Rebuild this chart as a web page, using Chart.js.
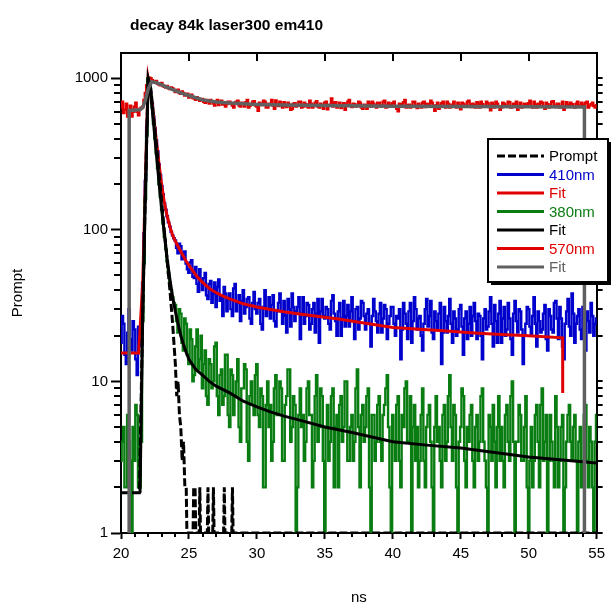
<!DOCTYPE html>
<html>
<head>
<meta charset="utf-8">
<script src="https://cdn.jsdelivr.net/npm/chart.js@4.4.1/dist/chart.umd.min.js"></script>
<style>
  html, body { margin: 0; padding: 0; background: #fff; }
  canvas { display: block; }
</style>
</head>
<body>
<canvas id="decay" width="611" height="616"></canvas>
<script>
// axis ranges / ticks
const X_MIN = 20, X_MAX = 55, X_STEP = 5;
const Y_MIN = 1, Y_MAX = 1468;
const Y_DECADES = [1, 10, 100, 1000];

const SERIES_LABELS = ['Prompt', '410nm', 'Fit', '380nm', 'Fit', '570nm', 'Fit'];

// measured channels (ns), one row per ns
const T_DATA = [
  20.0, 20.1, 20.2, 20.3, 20.4, 20.5, 20.6, 20.7, 20.8, 20.9,
  21.0, 21.1, 21.2, 21.3, 21.4, 21.5, 21.6, 21.7, 21.8, 21.9,
  22.0, 22.1, 22.2, 22.3, 22.4, 22.5, 22.6, 22.7, 22.8, 22.9,
  23.0, 23.1, 23.2, 23.3, 23.4, 23.5, 23.6, 23.7, 23.8, 23.9,
  24.0, 24.1, 24.2, 24.3, 24.4, 24.5, 24.6, 24.7, 24.8, 24.9,
  25.0, 25.1, 25.2, 25.3, 25.4, 25.5, 25.6, 25.7, 25.8, 25.9,
  26.0, 26.1, 26.2, 26.3, 26.4, 26.5, 26.6, 26.7, 26.8, 26.9,
  27.0, 27.1, 27.2, 27.3, 27.4, 27.5, 27.6, 27.7, 27.8, 27.9,
  28.0, 28.1, 28.2, 28.3, 28.4, 28.5, 28.6, 28.7, 28.8, 28.9,
  29.0, 29.1, 29.2, 29.3, 29.4, 29.5, 29.6, 29.7, 29.8, 29.9,
  30.0, 30.1, 30.2, 30.3, 30.4, 30.5, 30.6, 30.7, 30.8, 30.9,
  31.0, 31.1, 31.2, 31.3, 31.4, 31.5, 31.6, 31.7, 31.8, 31.9,
  32.0, 32.1, 32.2, 32.3, 32.4, 32.5, 32.6, 32.7, 32.8, 32.9,
  33.0, 33.1, 33.2, 33.3, 33.4, 33.5, 33.6, 33.7, 33.8, 33.9,
  34.0, 34.1, 34.2, 34.3, 34.4, 34.5, 34.6, 34.7, 34.8, 34.9,
  35.0, 35.1, 35.2, 35.3, 35.4, 35.5, 35.6, 35.7, 35.8, 35.9,
  36.0, 36.1, 36.2, 36.3, 36.4, 36.5, 36.6, 36.7, 36.8, 36.9,
  37.0, 37.1, 37.2, 37.3, 37.4, 37.5, 37.6, 37.7, 37.8, 37.9,
  38.0, 38.1, 38.2, 38.3, 38.4, 38.5, 38.6, 38.7, 38.8, 38.9,
  39.0, 39.1, 39.2, 39.3, 39.4, 39.5, 39.6, 39.7, 39.8, 39.9,
  40.0, 40.1, 40.2, 40.3, 40.4, 40.5, 40.6, 40.7, 40.8, 40.9,
  41.0, 41.1, 41.2, 41.3, 41.4, 41.5, 41.6, 41.7, 41.8, 41.9,
  42.0, 42.1, 42.2, 42.3, 42.4, 42.5, 42.6, 42.7, 42.8, 42.9,
  43.0, 43.1, 43.2, 43.3, 43.4, 43.5, 43.6, 43.7, 43.8, 43.9,
  44.0, 44.1, 44.2, 44.3, 44.4, 44.5, 44.6, 44.7, 44.8, 44.9,
  45.0, 45.1, 45.2, 45.3, 45.4, 45.5, 45.6, 45.7, 45.8, 45.9,
  46.0, 46.1, 46.2, 46.3, 46.4, 46.5, 46.6, 46.7, 46.8, 46.9,
  47.0, 47.1, 47.2, 47.3, 47.4, 47.5, 47.6, 47.7, 47.8, 47.9,
  48.0, 48.1, 48.2, 48.3, 48.4, 48.5, 48.6, 48.7, 48.8, 48.9,
  49.0, 49.1, 49.2, 49.3, 49.4, 49.5, 49.6, 49.7, 49.8, 49.9,
  50.0, 50.1, 50.2, 50.3, 50.4, 50.5, 50.6, 50.7, 50.8, 50.9,
  51.0, 51.1, 51.2, 51.3, 51.4, 51.5, 51.6, 51.7, 51.8, 51.9,
  52.0, 52.1, 52.2, 52.3, 52.4, 52.5, 52.6, 52.7, 52.8, 52.9,
  53.0, 53.1, 53.2, 53.3, 53.4, 53.5, 53.6, 53.7, 53.8, 53.9,
  54.0, 54.1, 54.2, 54.3, 54.4, 54.5, 54.6, 54.7, 54.8, 54.9,
  55.0
];

const COUNTS_410 = [
  18, 27, 24, 15, 13, 21, 30, 19, 16, 25,
  22, 14, 11, 23, 20, 17, 45, 95, 210, 480,
  1000, 910, 800, 680, 560, 470, 390, 330, 270, 230,
  195, 172, 150, 136, 123, 112, 105, 97, 92, 88,
  85, 76, 70, 81, 78, 64, 66, 72, 60, 55,
  52, 61, 63, 49, 48, 57, 44, 39, 55, 47,
  40, 48, 52, 37, 35, 44, 46, 33, 38, 45,
  31, 42, 47, 34, 36, 27, 42, 38, 29, 35,
  38, 30, 27, 41, 44, 29, 33, 37, 25, 34,
  40, 28, 31, 35, 36, 26, 24, 33, 39, 30,
  28, 33, 35, 24, 22, 31, 40, 27, 30, 36,
  26, 32, 37, 25, 23, 29, 33, 38, 29, 24,
  34, 27, 21, 35, 30, 23, 38, 31, 25, 29,
  31, 36, 19, 28, 36, 24, 27, 33, 32, 22,
  24, 30, 33, 21, 28, 35, 18, 29, 35, 27,
  26, 31, 30, 24, 22, 34, 37, 28, 25, 20,
  29, 33, 20, 26, 34, 23, 27, 32, 23, 29,
  36, 25, 19, 30, 31, 22, 26, 34, 33, 27,
  22, 28, 30, 24, 17, 27, 35, 29, 25, 21,
  28, 33, 21, 26, 32, 30, 19, 24, 27, 31,
  31, 24, 20, 27, 26, 30, 14, 22, 33, 28,
  24, 19, 29, 33, 18, 25, 36, 30, 22, 26,
  27, 20, 16, 24, 30, 35, 23, 27, 34, 21,
  19, 29, 25, 22, 28, 33, 13, 21, 31, 25,
  21, 27, 35, 24, 18, 29, 26, 20, 22, 30,
  32, 23, 15, 26, 29, 19, 24, 31, 20, 27,
  33, 25, 19, 28, 27, 20, 14, 26, 30, 22,
  23, 29, 36, 24, 17, 32, 25, 18, 28, 34,
  18, 26, 31, 20, 22, 33, 26, 19, 15, 28,
  34, 25, 21, 30, 29, 22, 13, 20, 24, 31,
  30, 23, 20, 27, 36, 24, 17, 29, 25, 21,
  22, 28, 32, 19, 16, 30, 27, 22, 21, 33,
  34, 26, 19, 31, 26, 17, 14, 24, 29, 35,
  23, 20, 38, 28, 18, 24, 27, 30, 22, 19,
  31, 25, 16, 29, 25, 21, 33, 27, 20, 24,
  26
];

const COUNTS_380 = [
  3, 4, 5, 2, 2, 6, 4, 3, 1, 5,
  3, 7, 6, 2, 2, 4, 25, 60, 160, 420,
  1000, 900, 780, 640, 500, 400, 320, 255, 200, 165,
  135, 110, 90, 75, 62, 52, 45, 40, 36, 33,
  32, 25, 21, 30, 28, 18, 16, 26, 24, 15,
  13, 22, 19, 10, 11, 17, 22, 12, 14, 20,
  9, 13, 16, 8, 7, 14, 13, 9, 10, 17,
  18, 8, 6, 11, 12, 7, 8, 15, 15, 6,
  5, 12, 11, 6, 8, 10, 14, 5, 4, 9,
  9, 13, 12, 4, 3, 8, 10, 7, 6, 11,
  13, 6, 5, 9, 8, 2, 2, 7, 10, 5,
  7, 3, 4, 9, 11, 6, 6, 10, 9, 3,
  3, 7, 8, 12, 12, 4, 5, 8, 7, 1,
  2, 6, 9, 5, 6, 3, 4, 9, 10, 6,
  6, 2, 3, 8, 11, 4, 5, 9, 8, 3,
  1, 5, 7, 3, 4, 8, 9, 2, 5, 6,
  2, 7, 8, 4, 5, 10, 10, 3, 3, 5,
  6, 3, 4, 9, 12, 5, 2, 6, 7, 4,
  5, 8, 9, 2, 1, 6, 6, 3, 4, 7,
  8, 4, 3, 6, 7, 9, 11, 5, 2, 1,
  6, 4, 3, 7, 8, 3, 2, 6, 5, 9,
  10, 4, 4, 8, 1, 5, 7, 3, 5, 2,
  3, 6, 9, 3, 2, 5, 6, 7, 4, 2,
  1, 5, 8, 4, 5, 3, 2, 6, 7, 3,
  4, 8, 11, 5, 3, 7, 6, 2, 1, 4,
  5, 9, 8, 3, 2, 5, 4, 6, 7, 3,
  2, 5, 6, 3, 4, 8, 9, 4, 3, 2,
  1, 6, 5, 3, 7, 4, 2, 5, 8, 3,
  5, 3, 2, 6, 7, 4, 3, 8, 10, 4,
  1, 4, 4, 7, 6, 3, 3, 5, 8, 2,
  1, 3, 5, 2, 3, 6, 7, 4, 2, 7,
  9, 3, 4, 6, 1, 3, 6, 4, 3, 2,
  8, 5, 2, 3, 5, 6, 1, 2, 4, 6,
  7, 4, 3, 5, 6, 3, 1, 4, 5, 2,
  3, 6, 7, 3, 2, 5, 4, 2, 1, 4,
  6
];

const COUNTS_570 = [
  640, 700, 590, 620, 680, 560, 610, 660, 560, 600,
  650, 690, 600, 570, 630, 640, 650, 720, 800, 900,
  990, 1010, 1000, 970, 950, 940, 960, 920, 910, 900,
  930, 890, 880, 870, 890, 860, 850, 870, 860, 840,
  810, 830, 840, 800, 790, 820, 800, 770, 770, 790,
  745, 760, 780, 740, 735, 720, 750, 740, 710, 730,
  730, 700, 690, 720, 705, 680, 720, 700, 680, 660,
  700, 720, 665, 690, 710, 670, 690, 650, 675, 700,
  700, 680, 660, 640, 690, 700, 710, 660, 650, 690,
  680, 650, 695, 720, 640, 660, 675, 700, 705, 660,
  650, 610, 690, 670, 665, 710, 700, 640, 640, 680,
  680, 720, 660, 630, 715, 670, 655, 700, 675, 640,
  695, 660, 645, 690, 670, 620, 630, 680, 685, 650,
  660, 700, 700, 640, 650, 690, 675, 650, 640, 710,
  680, 640, 655, 690, 705, 650, 640, 680, 665, 630,
  690, 700, 625, 660, 670, 735, 650, 690, 695, 640,
  660, 690, 635, 660, 685, 620, 670, 700, 720, 660,
  645, 680, 675, 650, 655, 700, 690, 640, 630, 670,
  665, 630, 700, 680, 650, 700, 680, 660, 640, 690,
  690, 650, 660, 700, 710, 640, 645, 690, 670, 660,
  685, 700, 650, 630, 605, 680, 675, 650, 695, 720,
  640, 665, 670, 640, 660, 700, 700, 660, 635, 680,
  660, 640, 690, 700, 645, 680, 675, 650, 710, 690,
  650, 610, 665, 690, 630, 660, 685, 700, 655, 640,
  700, 680, 640, 660, 670, 700, 655, 640, 690, 660,
  625, 690, 680, 660, 660, 700, 710, 670, 645, 680,
  665, 640, 695, 680, 640, 700, 675, 650, 650, 700,
  685, 660, 615, 690, 670, 640, 700, 680, 655, 620,
  640, 690, 680, 650, 660, 700, 695, 640, 645, 680,
  670, 700, 620, 660, 690, 640, 655, 680, 675, 650,
  685, 710, 650, 640, 700, 670, 640, 680, 665, 700,
  690, 650, 630, 690, 675, 640, 660, 700, 705, 660,
  645, 680, 680, 640, 655, 700, 620, 650, 695, 670,
  660, 690, 675, 650, 640, 680, 700, 660, 650, 690,
  670, 640, 690, 700, 640, 660, 675, 690, 655, 640,
  665
];

// instrument response
const PROMPT_T = [20, 21.35, 21.6, 21.8, 22.0, 22.2, 22.4, 22.6, 22.8, 23.0, 23.2, 23.4, 23.6, 23.8,
  24.0, 24.1, 24.2, 24.3, 24.4, 24.5, 24.6, 24.7, 24.8, 24.85, 25.3, 25.35, 25.45, 25.5,
  25.75, 25.8, 25.85, 26.35, 26.4, 26.45, 26.75, 26.8, 26.85, 27.55, 27.6, 27.65,
  28.15, 28.2, 28.25, 55];
const PROMPT_Y = [1.84, 1.84, 28, 190, 1000, 850, 550, 370, 240, 150, 96, 62, 40, 24,
  13, 8, 10, 6, 5, 3, 4, 2, 2, 1, 1, 2, 2, 1,
  1, 2, 1, 1, 2, 1, 1, 2, 1, 1, 2, 1,
  1, 2, 1, 1];

// fits
const FIT410_T = [20, 21.3, 21.6, 21.8, 22.0, 22.2, 22.4, 22.6, 22.8, 23.0, 23.2, 23.4, 23.6, 23.8,
  24.0, 24.4, 24.8, 25.2, 25.6, 26.0, 26.5, 27.0, 27.5, 28, 29, 30, 31, 32, 33, 34,
  36, 38, 40, 42, 44, 46, 48, 50, 52.5, 52.5];
const FIT410_Y = [15.4, 15.4, 45, 220, 1000, 800, 560, 390, 270, 195, 150, 123, 105, 92,
  84, 72, 62, 55, 49, 45, 41, 38.5, 36.5, 35, 32.5, 31, 29.8, 28.8, 28, 27.2,
  25.8, 24.2, 22.7, 22.1, 21.5, 20.9, 20.4, 20.0, 19.4, 8.4];

const FIT380_T = [21.4, 21.6, 21.8, 22.0, 22.2, 22.4, 22.6, 22.8, 23.0, 23.2, 23.4, 23.6, 23.8,
  24.0, 24.2, 24.4, 24.6, 24.8, 25.0, 25.5, 26.0, 26.5, 27, 28, 29, 30, 31, 32, 33,
  35, 37, 40, 42.5, 45, 47.5, 50, 52.5, 55];
const FIT380_Y = [1.84, 28, 180, 1000, 780, 500, 320, 205, 135, 92, 64, 47, 36,
  29, 24, 20, 17.5, 15.5, 14, 12, 11, 10, 9.3, 8.4, 7.4, 6.8, 6.3, 5.9, 5.6,
  5.0, 4.6, 4.0, 3.8, 3.64, 3.4, 3.17, 3.03, 2.9];

const FIT570_T = [20.6, 20.6, 21.4, 21.6, 21.8, 22.0, 22.25, 22.6, 23.0, 23.5, 24.0, 24.5, 25.0,
  26, 27, 28, 29, 30, 32, 35, 40, 45, 50, 54.1, 54.1];
const FIT570_Y = [1, 613, 620, 640, 720, 850, 950, 935, 905, 865, 830, 795, 770,
  720, 698, 686, 678, 672, 666, 660, 655, 652, 649, 647, 1];

const BLUE = '#0000cc', RED = '#e00000', GREEN = '#0a7d12', BLACK = '#000000', GRAY = '#606060';
const FONT = "'Liberation Sans', Arial, sans-serif";

function pts(xs, ys) {
  return xs.map((x, i) => ({ x: x, y: ys[i] }));
}

const datasets = [
  { label: SERIES_LABELS[0], data: pts(PROMPT_T, PROMPT_Y), borderColor: BLACK, borderWidth: 3, borderDash: [8, 3], order: 1 },
  { label: SERIES_LABELS[1], data: pts(T_DATA, COUNTS_410), borderColor: BLUE, borderWidth: 2.4, stepped: 'middle', order: 5 },
  { label: SERIES_LABELS[2], data: pts(FIT410_T, FIT410_Y), borderColor: RED, borderWidth: 3, order: 4 },
  { label: SERIES_LABELS[3], data: pts(T_DATA, COUNTS_380), borderColor: GREEN, borderWidth: 2.4, stepped: 'middle', order: 3 },
  { label: SERIES_LABELS[4], data: pts(FIT380_T, FIT380_Y), borderColor: BLACK, borderWidth: 3, order: 2 },
  { label: SERIES_LABELS[5], data: pts(T_DATA, COUNTS_570), borderColor: RED, borderWidth: 2.4, stepped: 'middle', order: 6 },
  { label: SERIES_LABELS[6], data: pts(FIT570_T, FIT570_Y), borderColor: GRAY, borderWidth: 3.5, order: 0 }
];
datasets.forEach(d => {
  d.xAxisID = 'x';
  d.yAxisID = 'y';
  d.pointRadius = 0;
  d.fill = false;
  d.tension = 0;
});

// title, minor ticks, inward top ticks and the boxed legend
const extras = {
  id: 'extras',
  afterDraw(chart) {
    const { ctx, chartArea: a, scales } = chart;
    const xs = scales.x, ys = scales.y;
    ctx.save();

    ctx.fillStyle = '#000';
    ctx.font = 'bold 15.5px ' + FONT;
    ctx.textBaseline = 'alphabetic';
    ctx.textAlign = 'left';
    ctx.fillText('decay 84k laser300 em410', 130, 30);

    ctx.strokeStyle = '#000';
    ctx.lineWidth = 2;
    ctx.beginPath();
    for (let t = X_MIN; t <= X_MAX; t++) {
      const px = Math.round(xs.getPixelForValue(t));
      if (t % X_STEP) {
        ctx.moveTo(px, a.bottom); ctx.lineTo(px, a.bottom + 4);
      } else if (t > X_MIN && t < X_MAX) {
        ctx.moveTo(px, a.top); ctx.lineTo(px, a.top + 8);
      }
    }
    Y_DECADES.forEach(d => {
      for (let m = 1; m <= 9; m++) {
        const v = d * m;
        if (v > Y_MAX) break;
        const py = Math.round(ys.getPixelForValue(v));
        if (m > 1) { ctx.moveTo(a.left - 7, py); ctx.lineTo(a.left, py); }
        ctx.moveTo(a.right, py); ctx.lineTo(a.right + 6, py);
      }
    });
    ctx.stroke();

    // legend
    const bx = 488, by = 139, bw = 120, bh = 143;
    ctx.fillStyle = '#000';
    ctx.fillRect(bx + 3, by + 3, bw, bh);
    ctx.fillStyle = '#fff';
    ctx.fillRect(bx, by, bw, bh);
    ctx.lineWidth = 2;
    ctx.strokeRect(bx, by, bw, bh);
    ctx.font = '15px ' + FONT;
    ctx.textBaseline = 'middle';
    chart.data.datasets.forEach((ds, i) => {
      const yy = 156 + i * 18.5;
      ctx.beginPath();
      ctx.strokeStyle = ds.borderColor;
      ctx.lineWidth = 3;
      ctx.setLineDash(ds.borderDash || []);
      ctx.moveTo(497, yy);
      ctx.lineTo(544, yy);
      ctx.stroke();
      ctx.setLineDash([]);
      ctx.fillStyle = ds.borderColor;
      ctx.fillText(ds.label, 549, yy + 1);
    });
    ctx.restore();
  }
};

new Chart(document.getElementById('decay'), {
  type: 'line',
  data: { datasets: datasets },
  options: {
    responsive: false,
    animation: false,
    events: [],
    layout: { padding: 0 },
    plugins: { legend: { display: false }, title: { display: false }, tooltip: { enabled: false } },
    scales: {
      x: {
        type: 'linear', position: 'bottom', min: X_MIN, max: X_MAX,
        ticks: { stepSize: X_STEP, color: '#000', padding: 6, maxRotation: 0, font: { family: FONT, size: 15 } },
        grid: { drawOnChartArea: false, tickLength: 6, tickWidth: 2, tickColor: '#000' },
        border: { color: '#000', width: 2 },
        title: { display: true, text: 'ns', color: '#000', padding: { top: 0, bottom: 9 }, font: { family: FONT, size: 15 } },
        afterFit: s => { s.height = 83; }
      },
      xTop: {
        type: 'linear', position: 'top', min: X_MIN, max: X_MAX,
        ticks: { display: false },
        grid: { drawOnChartArea: false, drawTicks: false },
        border: { color: '#000', width: 2 },
        afterFit: s => { s.height = 53; }
      },
      y: {
        type: 'logarithmic', position: 'left', min: Y_MIN, max: Y_MAX,
        afterBuildTicks: s => { s.ticks = Y_DECADES.map(v => ({ value: v })); },
        ticks: { color: '#000', padding: 3, font: { family: FONT, size: 15 }, callback: v => String(v) },
        grid: { drawOnChartArea: false, tickLength: 10, tickWidth: 2, tickColor: '#000' },
        border: { color: '#000', width: 2 },
        title: { display: true, text: 'Prompt', color: '#000', padding: { top: 9, bottom: 0 }, font: { family: FONT, size: 15 } },
        afterFit: s => { s.width = 121; }
      },
      yRight: {
        type: 'logarithmic', position: 'right', min: Y_MIN, max: Y_MAX,
        ticks: { display: false },
        grid: { drawOnChartArea: false, drawTicks: false },
        border: { color: '#000', width: 2 },
        afterFit: s => { s.width = 11; }
      }
    }
  },
  plugins: [extras]
});
</script>
</body>
</html>
